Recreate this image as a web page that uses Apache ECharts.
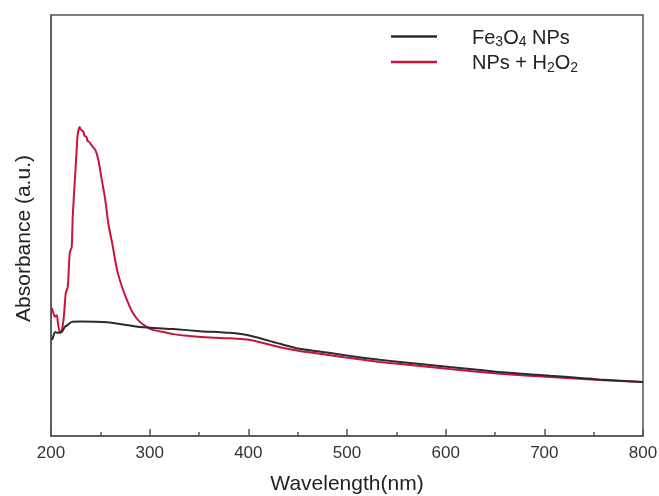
<!DOCTYPE html>
<html><head><meta charset="utf-8">
<script src="https://cdn.jsdelivr.net/npm/echarts@6/dist/echarts.min.js"></script>
<style>html,body{margin:0;padding:0;background:#fff}#c{width:659px;height:496px}</style>
</head><body><div id="c"></div>
<script>
// Wavelength (nm) and absorbance (arbitrary units)
var feWavelength = [201,202.5,204,207,211,214,217,221,229,257,290,324,351,381,402,432,452,483,503,533,554,604,635,655,706,736,756,800];
var feAbsorb     = [22.8,23.8,24.7,24.5,24.7,25.9,26.4,27.1,27.2,27.0,25.9,25.4,24.9,24.5,23.8,21.9,20.7,19.7,19.0,18.1,17.6,16.4,15.7,15.2,14.3,13.8,13.4,12.8];
var h2Wavelength = [201,202,204,206,207,209,211,213,215,217,219,221,222,224,226,227,229,230,233,234,236,237,239,241,245,248,251,255,258,262,267,272,277,283,290,297,303,314,324,338,351,381,402,432,452,483,503,533,554,604,655,706,756,800];
var h2Absorb     = [30.4,29.5,28.3,28.7,26.8,24.5,25.2,28.3,34.0,35.4,43.5,44.9,52.0,60.1,67.9,71.5,73.4,72.9,72.2,71.3,71.0,70.1,69.8,69.1,67.9,65.6,61.5,56.1,50.6,45.8,39.4,35.4,32.3,29.2,27.1,25.9,25.2,24.7,24.2,23.8,23.5,23.2,22.8,21.1,20.2,19.2,18.5,17.6,17.1,15.9,14.8,14.0,13.3,12.8];
var xTicks = [200,300,400,500,600,700,800];
var seriesNames = ['Fe3O4 NPs','NPs + H2O2'];

function pairs(xs, ys){ return xs.map(function(x,i){ return [x, ys[i]]; }); }

var chart = echarts.init(document.getElementById('c'));
var font = '"Liberation Sans", Arial, sans-serif';
chart.setOption({
  animation: false,
  grid: {left: 51, right: 16, top: 15, bottom: 60, show: true, borderColor: '#555', borderWidth: 1.5,
         containLabel: false, outerBoundsMode: 'none'},
  legend: {
    orient: 'vertical', left: 386, top: 23, itemGap: 4,
    icon: 'rect', itemWidth: 46, itemHeight: 2.5,
    data: seriesNames,
    textStyle: {fontFamily: font, fontSize: 20, color: '#222', padding: [3,0,0,30],
      rich: {
        n: {fontFamily: font, fontSize: 20, color: '#222'},
        s: {fontFamily: font, fontSize: 14, color: '#222', padding: [9,0,0,0]}
      }},
    formatter: function(name){
      if (name === seriesNames[0]) return '{n|Fe}{s|3}{n|O}{s|4}{n| NPs}';
      return '{n|NPs + H}{s|2}{n|O}{s|2}';
    }
  },
  xAxis: {
    type: 'value', min: 200, max: 800, interval: 100,
    name: 'Wavelength(nm)', nameLocation: 'middle', nameGap: 38,
    nameTextStyle: {fontFamily: font, fontSize: 21, color: '#222'},
    axisLine: {show: true, lineStyle: {color: '#555', width: 1.5}},
    axisTick: {show: true, inside: true, length: 7, lineStyle: {color: '#555', width: 1.5}},
    minorTick: {show: true, splitNumber: 2, length: 4, lineStyle: {color: '#555', width: 1.5}},
    axisLabel: {fontFamily: font, fontSize: 17, color: '#333', margin: 9,
      formatter: function(v){ return xTicks.indexOf(v) >= 0 ? String(v) : ''; }},
    splitLine: {show: false}
  },
  yAxis: {
    type: 'value', min: 0, max: 100,
    name: 'Absorbance (a.u.)', nameLocation: 'middle', nameGap: 16,
    nameTextStyle: {fontFamily: font, fontSize: 21, color: '#222', padding: [0, 26, 0, 0]},
    axisLine: {show: true, lineStyle: {color: '#555', width: 1.5}},
    axisTick: {show: false}, axisLabel: {show: false}, splitLine: {show: false}
  },
  series: [
    {name: seriesNames[0], type: 'line', data: pairs(feWavelength, feAbsorb), showSymbol: false, symbol: 'none',
     smooth: 0.2, lineStyle: {color: '#2b2b2b', width: 2}, itemStyle: {color: '#2b2b2b'}, z: 3},
    {name: seriesNames[1], type: 'line', data: pairs(h2Wavelength, h2Absorb), showSymbol: false, symbol: 'none',
     smooth: 0.2, lineStyle: {color: '#c8143c', width: 2}, itemStyle: {color: '#c8143c'}, z: 2}
  ]
});
</script></body></html>
